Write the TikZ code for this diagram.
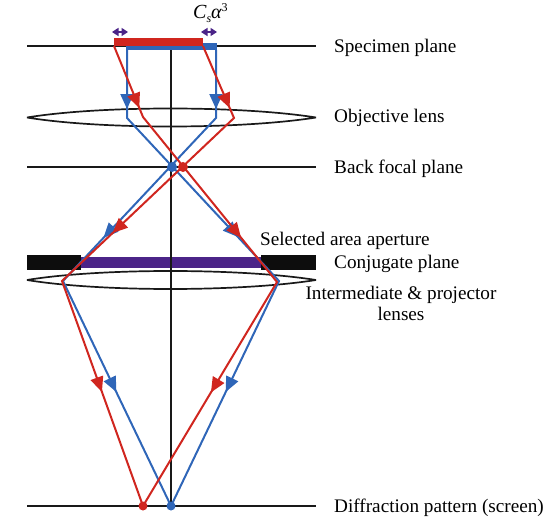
\documentclass[tikz,border=0pt]{standalone}
\usepackage{fontspec}
\setmainfont{Liberation Serif}
\usetikzlibrary{arrows.meta,calc}
\definecolor{rayblue}{HTML}{2F66B8}
\definecolor{rayred}{HTML}{D0261F}
\definecolor{apurple}{HTML}{4B2488}
\newcommand{\rayhead}[4]{\draw[#1] ($($(#2)!#4!(#3)$)!15pt!(#2)$) -- ($(#2)!#4!(#3)$);}
\tikzset{
  x=1pt,y=-1pt,
  plane/.style={draw=black!90,line width=2pt},
  lensline/.style={draw=black!90,line width=1.7pt,line join=bevel},
  bray/.style={draw=rayblue,line width=2pt,line join=miter},
  rray/.style={draw=rayred,line width=2pt,line join=miter},
  btip/.style={bray,-{Triangle[length=15pt,width=13pt,fill=rayblue]}},
  rtip/.style={rray,-{Triangle[length=15pt,width=13pt,fill=rayred]}},
  lbl/.style={anchor=base west,inner sep=0pt,font=\fontsize{19.2}{22}\selectfont},
  dbl/.style={draw=apurple,line width=1.6pt,{Triangle[length=6.5pt,width=8pt]}-{Triangle[length=6.5pt,width=8pt]}},
  dot/.style={circle,inner sep=0pt,minimum size=9pt}
}
\begin{document}
\begin{tikzpicture}
\useasboundingbox (0,0) rectangle (554,526);
% plane ends
\coordinate (specL) at (27,46); \coordinate (specR) at (316,46);
\coordinate (bfpL) at (27,167); \coordinate (bfpR) at (316,167);
\coordinate (scrL) at (27,506); \coordinate (scrR) at (316,506);
\coordinate (axT) at (171,46); \coordinate (axB) at (171,506);
% lenses
\draw[lensline] (27,117.5) .. controls (100,105.5) and (240,105.5) .. (316,117.5) .. controls (240,129.5) and (100,129.5) .. cycle;
\draw[lensline] (27,280) .. controls (100,268) and (240,268) .. (316,280) .. controls (240,292) and (100,292) .. cycle;
\draw[plane] (specL) -- (specR);
\draw[plane] (bfpL) -- (bfpR);
\draw[plane] (scrL) -- (scrR);
% aperture
\fill[black!95] (27,255) rectangle (81,270);
\fill[black!95] (261,255) rectangle (316,270);
\fill[apurple] (81,257) rectangle (261,268);
\draw[plane] (axT) -- (axB);
% specimen bars
\fill[rayblue] (126,43) rectangle (217,50.5);
\fill[rayred] (114,38.5) rectangle (203,46.5);
% ray points
\coordinate (bs1) at (127,50); \coordinate (bl1) at (127,118);
\coordinate (bs2) at (216,50); \coordinate (bl2) at (216,118);
\coordinate (bf) at (172,167);
\coordinate (bi1) at (63,281); \coordinate (bi2) at (279,281);
\coordinate (bsc) at (171,506);
\coordinate (rs1) at (114,46); \coordinate (rl1) at (143,117);
\coordinate (rs2) at (203,46); \coordinate (rl2) at (234,118);
\coordinate (rf) at (183,167);
\coordinate (ri1) at (62,281); \coordinate (ri2) at (277,282);
\coordinate (rsc) at (143,506);
% blue rays
\draw[bray] (bs1) -- (bl1) -- (bi2) -- (bsc);
\draw[bray] (bs2) -- (bl2) -- (bi1) -- (bsc);
\rayhead{btip}{bs1}{bl1}{.868}
\rayhead{btip}{bs2}{bl2}{.868}
\rayhead{btip}{bl2}{bi1}{.736}
\rayhead{btip}{bl1}{bi2}{.73}
\rayhead{btip}{bi1}{bsc}{.493}
\rayhead{btip}{bi2}{bsc}{.493}
% red rays
\draw[rray] (rs1) -- (rl1) -- (ri2) -- (rsc);
\draw[rray] (rs2) -- (rl2) -- (ri1) -- (rsc);
\rayhead{rtip}{rs1}{rl1}{.873}
\rayhead{rtip}{rs2}{rl2}{.861}
\rayhead{rtip}{rl2}{ri1}{.706}
\rayhead{rtip}{rl1}{ri2}{.732}
\rayhead{rtip}{ri1}{rsc}{.493}
\rayhead{rtip}{ri2}{rsc}{.493}
% dots
\node[dot,fill=rayblue,minimum size=10pt] (dbf) at (bf) {};
\node[dot,fill=rayred,minimum size=10pt] (drf) at (rf) {};
\node[dot,fill=rayred] (drs) at (rsc) {};
\node[dot,fill=rayblue] (dbs) at (bsc) {};
% displacement arrows
\draw[dbl] (112,32) -- (128,32);
\draw[dbl] (201,32) -- (217,32);
\node[anchor=base west,inner sep=0pt] (cs) at (193,18.5) {\fontsize{20}{20}\selectfont\itshape C\raisebox{-4.5pt}{\fontsize{12}{12}\selectfont s}α\raisebox{7pt}{\fontsize{12}{12}\selectfont\upshape 3}};
% labels
\node[lbl] (l1) at (334,53) {Specimen plane};
\node[lbl] (l2) at (334,123) {Objective lens};
\node[lbl] (l3) at (334,174) {Back focal plane};
\node[lbl] (l4) at (260,246) {Selected area aperture};
\node[lbl] (l5) at (334,269) {Conjugate plane};
\node[lbl,anchor=base] (l6) at (401,300) {Intermediate \& projector};
\node[lbl,anchor=base] (l6b) at (401,321) {lenses};
\node[lbl] (l7) at (334,512) {Diffraction pattern (screen)};
\end{tikzpicture}
\end{document}
